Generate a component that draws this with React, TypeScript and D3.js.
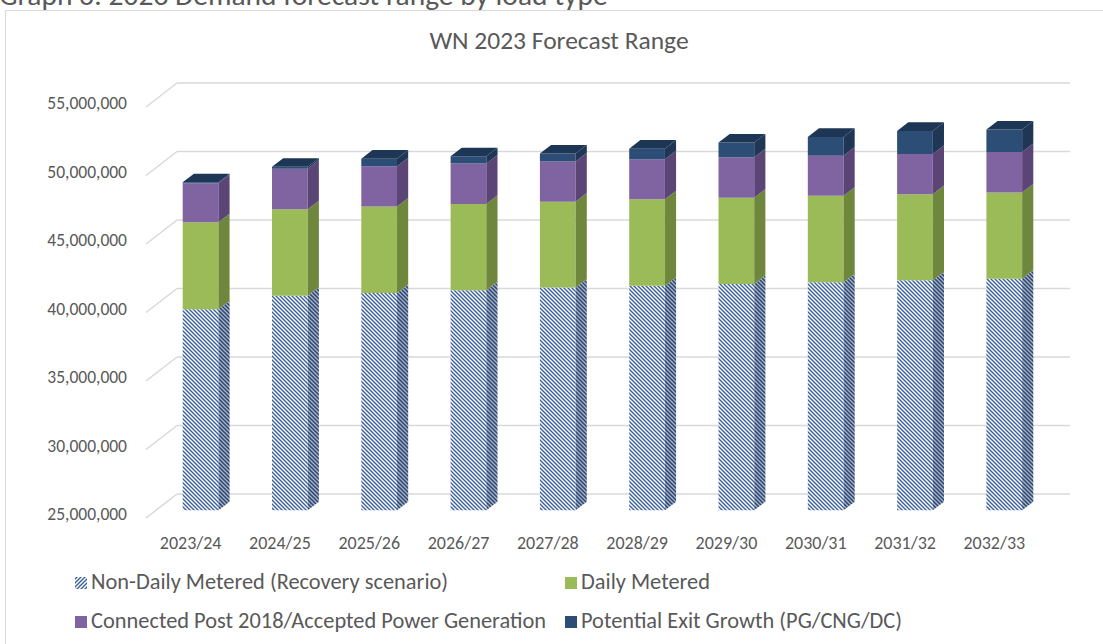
import React from 'react';
import * as d3 from 'd3';

// chart values
const categories = ['2023/24', '2024/25', '2025/26', '2026/27', '2027/28', '2028/29', '2029/30', '2030/31', '2031/32', '2032/33'];
const nonDailyMetered = [39670000, 40670000, 40860000, 41060000, 41260000, 41390000, 41520000, 41640000, 41790000, 41910000];
const dailyMetered = [6350000, 6300000, 6310000, 6300000, 6270000, 6310000, 6300000, 6320000, 6280000, 6280000];
const connectedPost2018 = [2850000, 2970000, 2940000, 2950000, 2940000, 2920000, 2950000, 2930000, 2940000, 2960000];
const exitGrowth = [70000, 130000, 560000, 530000, 570000, 780000, 1070000, 1360000, 1680000, 1640000];
const yTicks = [25000000, 30000000, 35000000, 40000000, 45000000, 50000000, 55000000];
const seriesKeys = ['ndm', 'dm', 'cp', 'eg'];
const seriesNames = [
  'Non-Daily Metered (Recovery scenario)',
  'Daily Metered',
  'Connected Post 2018/Accepted Power Generation',
  'Potential Exit Growth (PG/CNG/DC)',
];

const W = 1103;
const H = 644;
const FONT = 'Carlito, Calibri, Lato, sans-serif';
const TXT = '#595959';
const Y_MIN = 25000000;
const Y_MAX = 55000000;

// oblique depth of the 3D floor
const DX = 31;
const DY = -24;
const F0 = 0.32;
const F1 = 0.68;

const faces: Record<string, { front: string; side: string; top: string }> = {
  ndm: { front: 'url(#hatchFront)', side: 'url(#hatchSide)', top: '#2f5597' },
  dm: { front: '#9bbb59', side: '#6f873c', top: '#b3cd7b' },
  cp: { front: '#8064a2', side: '#5a4576', top: '#9a80bb' },
  eg: { front: '#2c4d75', side: '#1f3655', top: '#1e3656' },
};

const App = () => {
  const rows = categories.map((c, i) => ({
    cat: c,
    ndm: nonDailyMetered[i],
    dm: dailyMetered[i],
    cp: connectedPost2018[i],
    eg: exitGrowth[i],
  }));
  const stacked = d3.stack<any>().keys(seriesKeys)(rows);

  const x = d3.scaleBand().domain(categories).range([146, 1039]).paddingInner(0.6).paddingOuter(0.3);
  const y = d3.scaleLinear().domain([Y_MIN, Y_MAX]).range([518, 107]);
  const P = (px: number, v: number, f: number) => [px + DX * f, y(v) + DY * f];
  const poly = (pts: number[][]) => 'M' + pts.map((p) => p.join(',')).join('L') + 'Z';
  const fmt = d3.format(',');

  const bars: React.ReactNode[] = [];
  categories.forEach((c, i) => {
    const bx0 = x(c) as number;
    const bx1 = bx0 + x.bandwidth();
    stacked.forEach((s, si) => {
      // axis starts at 25M, so clip the base of the stack there
      const v0 = Math.max(s[i][0], Y_MIN);
      const v1 = s[i][1];
      const col = faces[s.key];
      const isTop = si === stacked.length - 1;
      bars.push(
        <g key={c + s.key}>
          <path d={poly([P(bx0, v0, F0), P(bx1, v0, F0), P(bx1, v1, F0), P(bx0, v1, F0)])} fill={col.front} />
          <path d={poly([P(bx1, v0, F0), P(bx1, v0, F1), P(bx1, v1, F1), P(bx1, v1, F0)])} fill={col.side} />
          {isTop && (
            <path d={poly([P(bx0, v1, F0), P(bx1, v1, F0), P(bx1, v1, F1), P(bx0, v1, F1)])} fill={col.top} />
          )}
        </g>
      );
    });
  });

  const legendPos = [
    [75, 583],
    [565, 583],
    [75, 622],
    [565, 622],
  ];
  const legendFill = ['url(#hatchLegend)', '#9bbb59', '#8064a2', '#2c4d75'];

  return (
    <svg width={W} height={H} style={{ position: 'absolute', left: 0, top: 0, background: '#fff' }} fontFamily={FONT}>
      <defs>
        <pattern id="hatchFront" patternUnits="userSpaceOnUse" width={4} height={4}>
          <rect width={4} height={4} fill="#ffffff" />
          <path d="M-1,-1L5,5M-1,3L1,5M3,-1L5,1" stroke="#3a5f9f" strokeWidth={1.4} />
        </pattern>
        <pattern id="hatchSide" patternUnits="userSpaceOnUse" width={4} height={4}>
          <rect width={4} height={4} fill="#a9b4c8" />
          <path d="M-1,-1L5,5M-1,3L1,5M3,-1L5,1" stroke="#2a4570" strokeWidth={1.5} />
        </pattern>
        <pattern id="hatchLegend" patternUnits="userSpaceOnUse" width={4} height={4}>
          <rect width={4} height={4} fill="#ffffff" />
          <path d="M-1,5L5,-1M-1,1L1,-1M3,5L5,3" stroke="#3a5f9f" strokeWidth={1.4} />
        </pattern>
      </defs>

      <text x={-1} y={5} fontSize={29.5} fill={TXT}>Graph 6: 2023 Demand forecast range by load type</text>
      <rect x={5.5} y={10.5} width={W} height={H} fill="none" stroke="#d9d9d9" strokeWidth={1} />

      <text x={559} y={43} fontSize={25.5} fill={TXT} textAnchor="middle" dominantBaseline="middle">
        WN 2023 Forecast Range
      </text>

      {/* back wall gridlines and floor diagonals */}
      {yTicks.map((t) => (
        <g key={t} stroke="#d9d9d9" strokeWidth={1.5} fill="none">
          <line x1={146} y1={y(t)} x2={146 + DX} y2={y(t) + DY} />
          <line x1={146 + DX} y1={y(t) + DY} x2={1039 + DX} y2={y(t) + DY} />
        </g>
      ))}

      {yTicks.map((t) => (
        <text key={'l' + t} x={127} y={y(t) - 2} fontSize={17.5} fill={TXT} textAnchor="end" dominantBaseline="middle">
          {fmt(t)}
        </text>
      ))}

      {bars}

      {categories.map((c) => (
        <text key={'c' + c} x={(x(c) as number) + x.bandwidth() / 2} y={545} fontSize={18} fill={TXT} textAnchor="middle" dominantBaseline="middle">
          {c}
        </text>
      ))}

      {seriesNames.map((n, i) => (
        <g key={n} transform={`translate(${legendPos[i][0]},${legendPos[i][1]})`}>
          <rect x={0} y={-6} width={12} height={12} fill={legendFill[i]} />
          <text x={16} y={1} fontSize={22.4} fill={TXT} dominantBaseline="middle">{n}</text>
        </g>
      ))}
    </svg>
  );
};

export default App;
